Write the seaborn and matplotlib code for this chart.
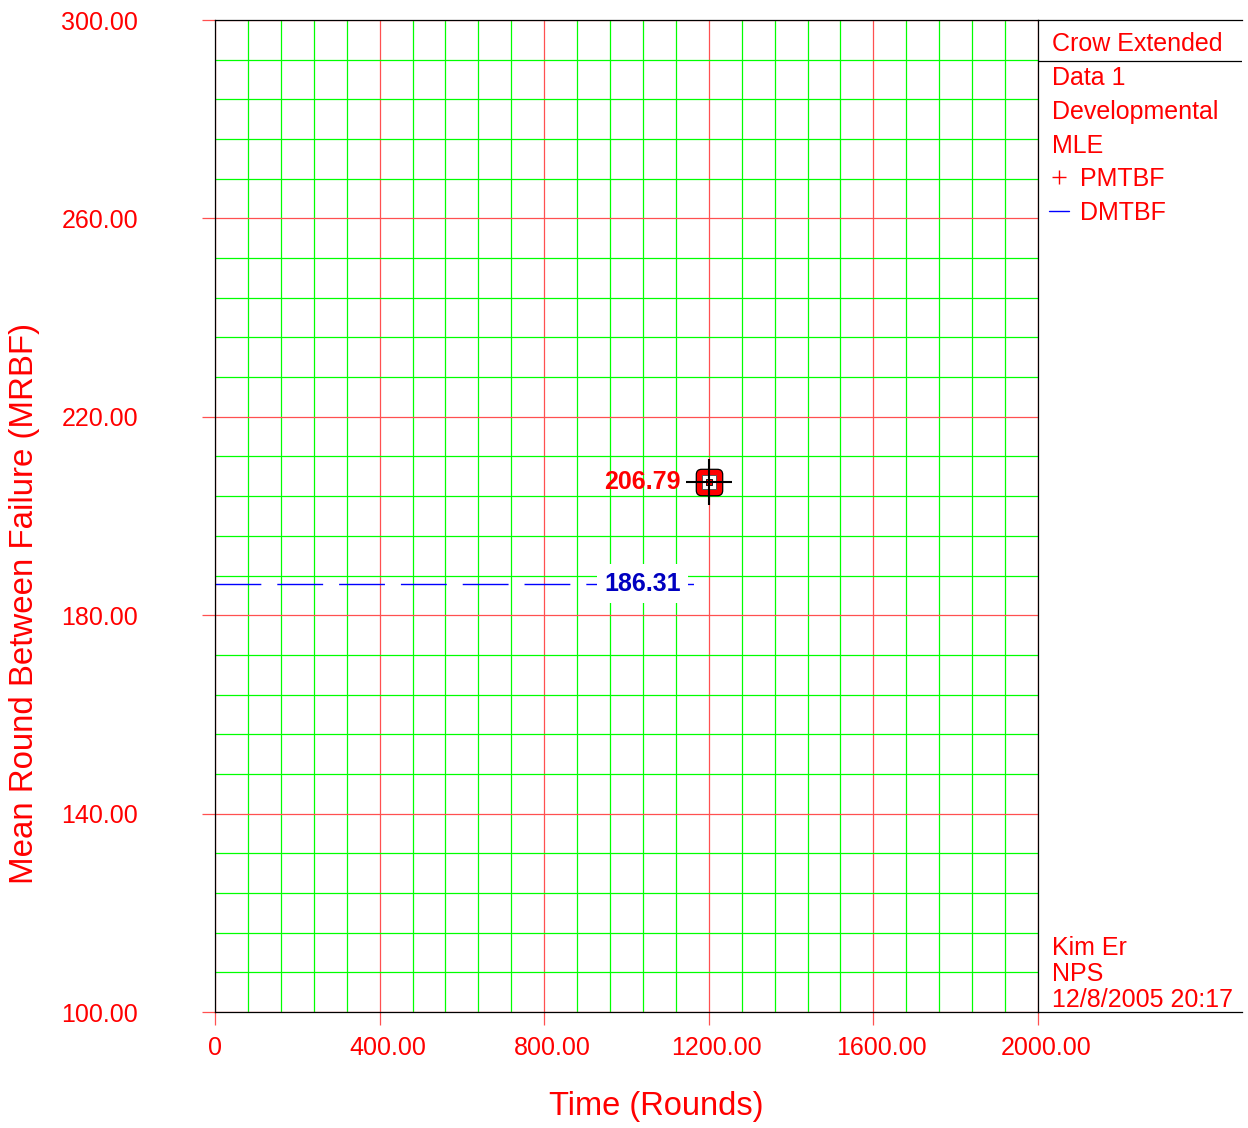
import numpy as np
import pandas as pd
import matplotlib
matplotlib.use("Agg")
import matplotlib.pyplot as plt
from matplotlib.path import Path
from matplotlib.lines import Line2D
from matplotlib.ticker import FixedLocator
import matplotlib.transforms as mtransforms
import seaborn as sns

# ---- data -------------------------------------------------------------
pmtbf_time = [1200.0]          # rounds
pmtbf_value = [206.79]         # projected MTBF
dmtbf_time = [0.0, 1200.0]     # span of demonstrated MTBF line
dmtbf_value = 186.31           # demonstrated MTBF

x_ticks = [0, 400, 800, 1200, 1600, 2000]
x_tick_labels = ["0", "400.00", "800.00", "1200.00", "1600.00", "2000.00"]
y_ticks = [100, 140, 180, 220, 260, 300]
y_tick_labels = ["100.00", "140.00", "180.00", "220.00", "260.00", "300.00"]

panel_header = "Crow Extended"
panel_lines = ["Data 1", "Developmental", "MLE"]
footer_lines = ["Kim Er", "NPS", "12/8/2005 20:17"]

# ---- style -------------------------------------------------------------
sns.set_style("white")
plt.rcParams["font.family"] = ["Liberation Sans", "DejaVu Sans"]

RED = "#ff0000"
GRID_RED = "#ff5050"
GRID_GREEN = "#00ff00"
BLUE = "#0000ff"
TEXT_BLUE = "#0000c0"

W, H = 1248, 1128
fig = plt.figure(figsize=(W / 100, H / 100), dpi=100)
fig.patch.set_facecolor("white")

# plot area in pixels: x 215..1038, y 20..1012
L, R, T, B = 215, 1038, 20, 1012
ax = fig.add_axes([L / W, 1 - B / H, (R - L) / W, (B - T) / H])
ax.set_xlim(0, 2000)
ax.set_ylim(100, 300)

# grid: green minor every 80 rounds / 8 MRBF, red major
ax.set_xticks(x_ticks, x_tick_labels)
ax.set_yticks(y_ticks, y_tick_labels)
ax.xaxis.set_minor_locator(FixedLocator(np.arange(0, 2001, 80)))
ax.yaxis.set_minor_locator(FixedLocator(np.arange(100, 301, 8)))
ax.grid(which="minor", color=GRID_GREEN, lw=0.9, zorder=0)
ax.grid(which="major", color=GRID_RED, lw=0.9, zorder=0.5)
ax.set_axisbelow(True)

ax.tick_params(which="minor", length=0, bottom=False, left=False)
ax.tick_params(which="major", direction="out", length=9.4, width=0.9,
               bottom=True, left=True, top=False, right=False,
               color=GRID_RED, labelcolor=RED, labelsize=18)
ax.tick_params(axis="y", which="major", pad=46)
ax.tick_params(axis="x", which="major", pad=8)
for sp in ax.spines.values():
    sp.set_color("black")
    sp.set_linewidth(0.9)
    sp.set_visible(True)

# ---- DMTBF dashed line --------------------------------------------------
dm = pd.DataFrame({"time": dmtbf_time, "mtbf": [dmtbf_value] * len(dmtbf_time)})
sns.lineplot(data=dm, x="time", y="mtbf", ax=ax, color=BLUE, lw=1.0,
             linestyle=(0, (33, 11.5)), zorder=2)
ax.annotate(f"{dmtbf_value:.2f}", xy=(dmtbf_time[-1], dmtbf_value),
            xytext=(-28, 0), textcoords="offset pixels",
            ha="right", va="center", fontsize=18, fontweight="bold",
            color=TEXT_BLUE, zorder=4,
            bbox=dict(boxstyle="square,pad=0.3", fc="white", ec="none"))

# ---- PMTBF point ---------------------------------------------------------
def rounded_square(r=0.4):
    verts = [(-1 + r, -1), (1 - r, -1), (1, -1), (1, -1 + r),
             (1, 1 - r), (1, 1), (1 - r, 1), (-1 + r, 1),
             (-1, 1), (-1, 1 - r), (-1, -1 + r), (-1, -1), (-1 + r, -1),
             (-1 + r, -1)]
    codes = [Path.MOVETO, Path.LINETO, Path.CURVE3, Path.CURVE3,
             Path.LINETO, Path.CURVE3, Path.CURVE3, Path.LINETO,
             Path.CURVE3, Path.CURVE3, Path.LINETO, Path.CURVE3, Path.CURVE3,
             Path.CLOSEPOLY]
    return Path(verts, codes)

pm = pd.DataFrame({"time": pmtbf_time, "mtbf": pmtbf_value})
sns.scatterplot(data=pm, x="time", y="mtbf", ax=ax, marker=rounded_square(),
                s=19.0 ** 2, color=RED, edgecolor="black", linewidth=0.9,
                zorder=5, legend=False)
sns.scatterplot(data=pm, x="time", y="mtbf", ax=ax, marker="s",
                s=10.5 ** 2, color="white", edgecolor="#555555", linewidth=0.7,
                zorder=6, legend=False)
sns.scatterplot(data=pm, x="time", y="mtbf", ax=ax, marker="s",
                s=4.3 ** 2, color=RED, edgecolor="black", linewidth=0.6,
                zorder=7, legend=False)
sns.scatterplot(data=pm, x="time", y="mtbf", ax=ax, marker="+",
                s=33 ** 2, color="black", linewidth=1.5, zorder=8, legend=False)
ax.annotate(f"{pmtbf_value[0]:.2f}", xy=(pmtbf_time[0], pmtbf_value[0]),
            xytext=(-28, 0), textcoords="offset pixels",
            ha="right", va="center", fontsize=18, fontweight="bold",
            color=RED, zorder=4)

# ---- axis labels -------------------------------------------------------
ax.set_xlabel("Time (Rounds)", fontsize=23.5, color=RED, va="center")
ax.set_ylabel("Mean Round Between Failure (MRBF)", fontsize=23.8, color=RED,
              va="center")
ax.xaxis.set_label_coords((656 - L) / (R - L), (B - 1106) / (B - T))
ax.yaxis.set_label_coords((25 - L) / (R - L), (B - 604) / (B - T))

# boundary ticks drawn in black as continuations of the frame
xt = ax.xaxis.get_major_ticks()
yt = ax.yaxis.get_major_ticks()
for t in (xt[0], xt[-1], yt[0], yt[-1]):
    t.tick1line.set_color("black")
# nudge the decimal x labels slightly right
shift = mtransforms.ScaledTranslation(8 / 100, 0, fig.dpi_scale_trans)
for t in xt[1:]:
    t.label1.set_transform(t.label1.get_transform() + shift)

# ---- side panel --------------------------------------------------------
PR = 1242
pax = fig.add_axes([R / W, 1 - B / H, (PR - R) / W, (B - T) / H])
pax.set_xlim(0, 1)
pax.set_ylim(0, 1)
pax.set_xticks([])
pax.set_yticks([])
pax.patch.set_alpha(0)
for name, sp in pax.spines.items():
    sp.set_visible(name in ("top", "bottom"))
    sp.set_color("black")
    sp.set_linewidth(0.9)
pax.axhline((B - 61) / (B - T), color="black", lw=0.9)

def py(ypix):
    return (B - ypix) / (B - T)

tx = (1052 - R) / (PR - R)
pax.text(tx, py(44), panel_header, fontsize=18, color=RED, va="center", ha="left")
for i, s in enumerate(panel_lines):
    pax.text(tx, py(78 + 34 * i), s, fontsize=18, color=RED, va="center", ha="left")
for i, s in enumerate(footer_lines):
    pax.text(tx, py(948 + 26 * i), s, fontsize=18, color=RED, va="center", ha="left")

handles = [Line2D([], [], ls="none", marker="+", color=RED, ms=10, mew=1.0),
           Line2D([], [], color=BLUE, lw=1.0)]
fig.legend(handles, ["PMTBF", "DMTBF"], loc="upper left",
           bbox_to_anchor=(1049 / W, 1 - 167 / H), bbox_transform=fig.transFigure,
           frameon=False, fontsize=18, labelcolor=RED, handlelength=0.8,
           handletextpad=0.45, borderpad=0, borderaxespad=0, labelspacing=0.4)

fig.savefig("out.png", dpi=100, facecolor="white")
